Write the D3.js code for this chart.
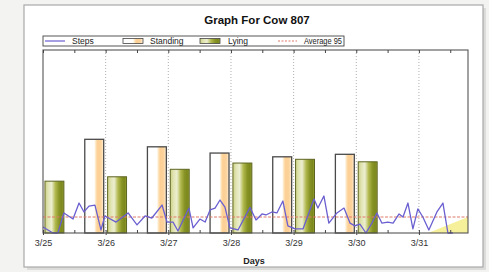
<!DOCTYPE html>
<html>
<head>
<meta charset="utf-8">
<script src="https://cdn.jsdelivr.net/npm/d3@7"></script>
<style>
  body { margin: 0; background: #f3f3f1; }
  svg { display: block; font-family: "Liberation Sans", Arial, sans-serif; }
</style>
</head>
<body>
<svg width="489" height="272"></svg>
<script>
const width = 489, height = 272;

// day labels and daily hours
const days = ["3/25", "3/26", "3/27", "3/28", "3/29", "3/30", "3/31"];
const standingHours = [null, 15.0, 13.8, 12.8, 12.2, 12.6, null];
const lyingHours = [8.3, 9.0, 10.2, 11.2, 11.8, 11.4, null];

// steps, hours since 3/25 00:00
const stepHours = [0, 3.8, 5.7, 8.0, 11.5, 13.8, 15.7, 17.6, 19.9, 22.2, 23.7, 28.0, 32.6, 36.0, 39.1, 41.7,
    45.6, 47.5, 49.8, 51.7, 55.9, 57.5, 60.1, 62.1, 64.0, 65.9, 67.8, 69.7, 71.6, 74.7, 79.3, 81.6, 83.9,
    85.4, 87.7, 89.6, 91.9, 93.8, 96.5, 99.6, 103.8, 105.3, 107.6, 109.5, 112.6, 115.3, 117.6, 119.5,
    121.4, 123.7, 126.0, 127.9, 129.8, 132.1, 134.1, 136.4, 137.9, 139.8, 141.7, 143.6, 145.5, 147.8,
    150.9, 153.2, 155.1, 157.0];
const stepCounts = [36, 0, 0, 119, 83, 178, 125, 160, 166, 18, 101, 65, 119, 48, 101, 89,
    166, 65, 65, 12, 148, 30, 83, 65, 137, 148, 196, 154, 30, 18, 152, 77, 113,
    107, 125, 119, 190, 42, 24, 24, 202, 148, 220, 59, 119, 148, 59, 42,
    53, 0, 59, 119, 59, 65, 59, 113, 95, 178, 24, 143, 95, 18,
    125, 178, 0, 0];
const averageSteps = 95;

// shaded wedge at the end (hours, steps)
const wedgeHours = [147.5, 162.8, 162.8];
const wedgeSteps = [0, 95, 0];

const start = new Date(2011, 2, 25);
const hoursToDate = h => new Date(start.getTime() + h * 3600000);

const svg = d3.select("svg");
const defs = svg.append("defs");

// card with a soft shadow
svg.append("rect").attr("x", 27).attr("y", 8).attr("width", 459).attr("height", 262)
    .attr("fill", "#dcdcda");
svg.append("rect").attr("x", 24).attr("y", 5).attr("width", 459).attr("height", 262)
    .attr("fill", "#fff").attr("stroke", "#a9a9a9").attr("stroke-width", 1.2);

const plotL = 43, plotR = 468, plotT = 50, plotB = 233;

const x = d3.scaleTime()
    .domain([start, hoursToDate(162.8)])
    .range([plotL, plotR]);
const yHours = d3.scaleLinear().domain([0, 29.3]).range([plotB, plotT]);
const ySteps = d3.scaleLinear().domain([0, 1087]).range([plotB, plotT]);

// gradients
const gStand = defs.append("linearGradient").attr("id", "gStand");
[["0%", "#ffffff"], ["50%", "#ffffff"], ["60%", "#fde0b2"], ["68%", "#fccf94"], ["86%", "#fcd39c"], ["100%", "#fff1dc"]]
    .forEach(s => gStand.append("stop").attr("offset", s[0]).attr("stop-color", s[1]));
const gLie = defs.append("linearGradient").attr("id", "gLie");
[["0%", "#cdd286"], ["18%", "#e2e5b4"], ["35%", "#eceed0"], ["55%", "#b2b94e"], ["75%", "#889426"], ["90%", "#7c881c"], ["100%", "#98a538"]]
    .forEach(s => gLie.append("stop").attr("offset", s[0]).attr("stop-color", s[1]));

// title
svg.append("text").attr("x", 257).attr("y", 24).attr("text-anchor", "middle")
    .attr("font-size", "11.5px").attr("font-weight", "bold").attr("fill", "#111")
    .text("Graph For Cow 807");

// legend
const lg = svg.append("g").attr("font-size", "8.5px").attr("fill", "#222");
lg.append("rect").attr("x", 43).attr("y", 36).attr("width", 301).attr("height", 10)
    .attr("fill", "#fff").attr("stroke", "#444").attr("stroke-width", 0.9);
lg.append("line").attr("x1", 45).attr("x2", 65).attr("y1", 41).attr("y2", 41)
    .attr("stroke", "#6a5fd0").attr("stroke-width", 1.2);
lg.append("text").attr("x", 72).attr("y", 44.3).text("Steps");
lg.append("rect").attr("x", 123).attr("y", 38.5).attr("width", 20).attr("height", 5)
    .attr("fill", "url(#gStand)").attr("stroke", "#444").attr("stroke-width", 0.8);
lg.append("text").attr("x", 150).attr("y", 44.3).text("Standing");
lg.append("rect").attr("x", 200).attr("y", 38.5).attr("width", 20).attr("height", 5)
    .attr("fill", "url(#gLie)").attr("stroke", "#444").attr("stroke-width", 0.8);
lg.append("text").attr("x", 228).attr("y", 44.3).text("Lying");
lg.append("line").attr("x1", 278).attr("x2", 297).attr("y1", 41).attr("y2", 41)
    .attr("stroke", "#e07a6a").attr("stroke-width", 1).attr("stroke-dasharray", "2,1.5");
lg.append("text").attr("x", 304).attr("y", 44.3).attr("textLength", 38)
    .attr("lengthAdjust", "spacingAndGlyphs").text("Average " + averageSteps);

// day gridlines
const dayDates = days.map((d, i) => hoursToDate(i * 24));
svg.selectAll(".grid").data(dayDates.slice(1)).enter().append("line")
    .attr("class", "grid")
    .attr("x1", d => x(d)).attr("x2", d => x(d))
    .attr("y1", plotT).attr("y2", plotB)
    .attr("stroke", "#9a9a9a").attr("stroke-width", 0.8).attr("stroke-dasharray", "1,2");

// shaded wedge
svg.append("path")
    .datum(wedgeHours.map((h, i) => [h, wedgeSteps[i]]))
    .attr("fill", "#f7f09a")
    .attr("d", d3.line().x(d => x(hoursToDate(d[0]))).y(d => ySteps(d[1])));

// bars
const barW = 7.25;
const standData = standingHours.map((v, i) => ({ i, v })).filter(d => d.v != null);
const lieData = lyingHours.map((v, i) => ({ i, v })).filter(d => d.v != null);

svg.selectAll(".stand").data(standData).enter().append("rect")
    .attr("class", "stand")
    .attr("x", d => x(hoursToDate(d.i * 24 - 0.75 - barW)))
    .attr("width", d => x(hoursToDate(d.i * 24 - 0.75)) - x(hoursToDate(d.i * 24 - 0.75 - barW)))
    .attr("y", d => yHours(d.v))
    .attr("height", d => plotB - yHours(d.v))
    .attr("fill", "url(#gStand)").attr("stroke", "#4a4a4a").attr("stroke-width", 1.3);

svg.selectAll(".lie").data(lieData).enter().append("rect")
    .attr("class", "lie")
    .attr("x", d => x(hoursToDate(d.i * 24 + 0.75)))
    .attr("width", d => x(hoursToDate(d.i * 24 + 0.75 + barW)) - x(hoursToDate(d.i * 24 + 0.75)))
    .attr("y", d => yHours(d.v))
    .attr("height", d => plotB - yHours(d.v))
    .attr("fill", "url(#gLie)").attr("stroke", "#5e6420").attr("stroke-width", 1);

// average line
svg.append("line")
    .attr("x1", plotL).attr("x2", plotR)
    .attr("y1", ySteps(averageSteps)).attr("y2", ySteps(averageSteps))
    .attr("stroke", "#e07a6a").attr("stroke-width", 1).attr("stroke-dasharray", "3,1.5");

// steps line
svg.append("path")
    .datum(stepHours.map((h, i) => [h, stepCounts[i]]))
    .attr("fill", "none").attr("stroke", "#6a5fd0").attr("stroke-width", 1.3)
    .attr("stroke-linejoin", "round")
    .attr("d", d3.line().x(d => x(hoursToDate(d[0]))).y(d => ySteps(d[1])));

// frame
svg.append("rect").attr("x", plotL).attr("y", plotT).attr("width", plotR - plotL).attr("height", plotB - plotT)
    .attr("fill", "none").attr("stroke", "#555").attr("stroke-width", 1.1);

// ticks: days and half days
const halfDays = d3.range(0, 163, 12).map(hoursToDate);
svg.append("g").attr("transform", `translate(0,${plotT})`)
    .call(d3.axisBottom(x).tickValues(halfDays).tickSize(3).tickFormat(""))
    .call(g => g.select(".domain").remove())
    .call(g => g.selectAll("line").attr("stroke", "#444"));
svg.append("g").attr("transform", `translate(0,${plotB})`)
    .call(d3.axisTop(x).tickValues(halfDays).tickSize(3).tickFormat(""))
    .call(g => g.select(".domain").remove())
    .call(g => g.selectAll("line").attr("stroke", "#444"));

const xAxis = svg.append("g").attr("transform", `translate(0,${plotB})`)
    .call(d3.axisBottom(x).tickValues(dayDates).tickSize(2).tickPadding(5)
        .tickFormat((d, i) => days[i]));
xAxis.select(".domain").remove();
xAxis.selectAll("line").attr("stroke", "#444");
xAxis.selectAll("text").attr("font-size", "9px").attr("fill", "#333")
    .attr("font-family", "Liberation Sans, Arial, sans-serif");

svg.append("text").attr("x", 254).attr("y", 264).attr("text-anchor", "middle")
    .attr("font-size", "9px").attr("font-weight", "bold").attr("fill", "#222")
    .text("Days");
</script>
</body>
</html>
